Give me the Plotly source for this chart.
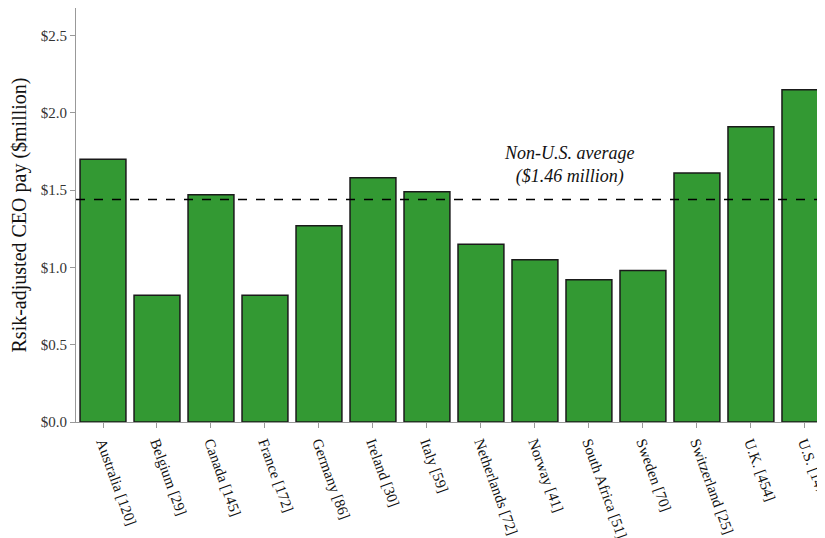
import plotly.graph_objects as go

countries = ["Australia [120]", "Belgium [29]", "Canada [145]", "France [172]", "Germany [86]",
             "Ireland [30]", "Italy [59]", "Netherlands [72]", "Norway [41]", "South Africa [51]",
             "Sweden [70]", "Switzerland [25]", "U.K. [454]", "U.S. [1475]"]
pay = [1.70, 0.82, 1.47, 0.82, 1.27, 1.58, 1.49, 1.15, 1.05, 0.92, 0.98, 1.61, 1.91, 2.15]
non_us_avg_line = 1.44
avg_label = "<i>Non-U.S. average</i><br><i>($1.46 million)</i>"
y_ticks = [0, 0.5, 1.0, 1.5, 2.0, 2.5]
y_ticklabels = ["$0.0", "$0.5", "$1.0", "$1.5", "$2.0", "$2.5"]

FONT = "'Times New Roman', 'Liberation Serif', 'DejaVu Serif', serif"

fig = go.Figure()
fig.add_trace(go.Bar(
    x=list(range(len(countries))), y=pay,
    marker=dict(color="#339933", line=dict(color="#1a1a1a", width=1.5)),
    showlegend=False,
))

fig.add_shape(type="line", xref="paper", yref="y", x0=0, x1=1,
              y0=non_us_avg_line, y1=non_us_avg_line,
              line=dict(color="black", width=1.5, dash="dash"))

fig.add_annotation(x=8.63, y=1.66, xref="x", yref="y", text=avg_label,
                   showarrow=False, font=dict(family=FONT, size=18, color="#111"),
                   align="center")

fig.update_layout(
    width=825, height=538,
    margin=dict(l=68, r=0, t=0, b=124),
    plot_bgcolor="white", paper_bgcolor="white",
    font=dict(family=FONT, color="#222"),
    bargap=0.15,
)

fig.update_xaxes(
    range=[-0.5, 13.52],
    tickmode="array", tickvals=list(range(len(countries))), ticktext=countries,
    tickangle=70, tickfont=dict(size=15, family=FONT, color="#111"),
    ticklabeloverflow="allow", automargin=False,
    ticks="outside", tickson="boundaries", ticklen=5, tickcolor="#999",
    showline=True, linecolor="#999", linewidth=1,
    showgrid=False, zeroline=False,
)
fig.update_yaxes(
    range=[0, 2.678],
    tickmode="array", tickvals=y_ticks, ticktext=y_ticklabels,
    tickfont=dict(size=15, family=FONT, color="#333"),
    ticks="outside", ticklen=5, tickcolor="#999",
    showline=True, linecolor="#999", linewidth=1,
    showgrid=False, zeroline=False, automargin=False,
    title=dict(text="Rsik-adjusted CEO pay ($million)", font=dict(size=20, family=FONT, color="#111"), standoff=8),
)

fig.write_html("out.html")
